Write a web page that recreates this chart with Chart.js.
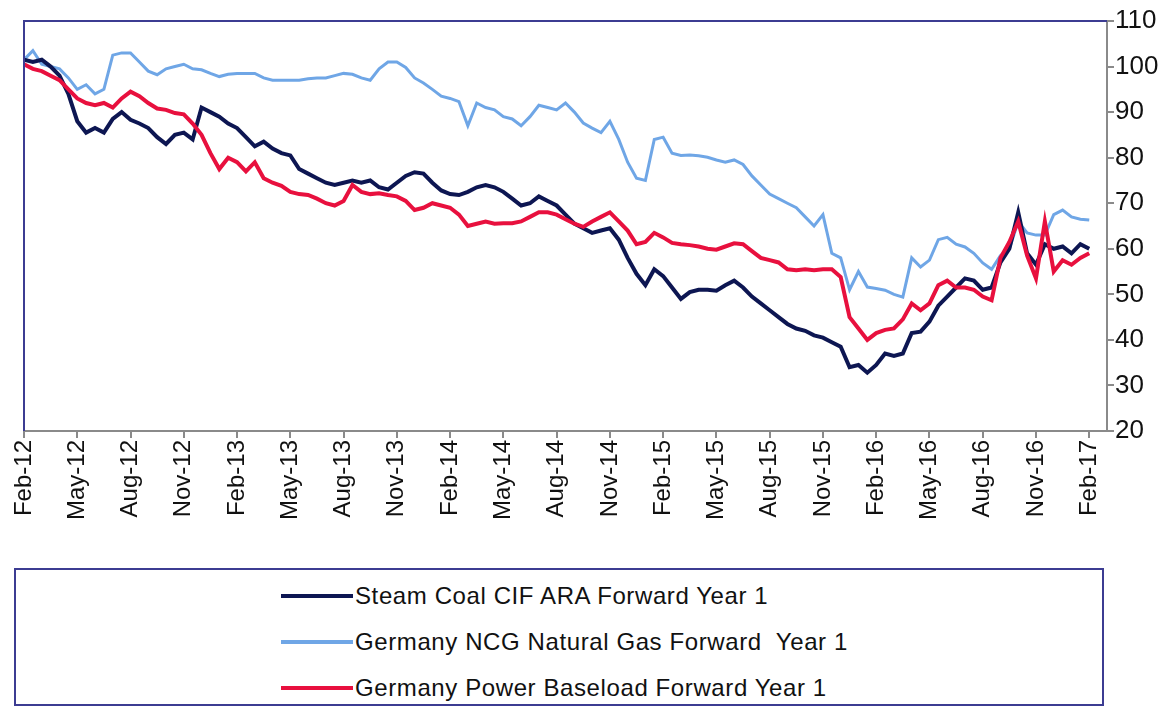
<!DOCTYPE html>
<html>
<head>
<meta charset="utf-8">
<script src="https://cdn.jsdelivr.net/npm/chart.js@4/dist/chart.umd.min.js"></script>
<style>
  body { margin: 0; background: #fff; }
  #wrap { position: relative; width: 1175px; height: 711px; }
  #legend {
    position: absolute; left: 14px; top: 568px; width: 1090px; height: 138px;
    border: 2px solid #3c3c92; box-sizing: border-box;
    font-family: "Liberation Sans", Arial, sans-serif;
    font-size: 24px; letter-spacing: 0.6px; color: #111;
  }
  .row { position: absolute; left: 265px; height: 28px; display: flex; align-items: center; }
  .swatch { width: 72px; height: 4px; margin-right: 2px; }
</style>
</head>
<body>
<div id="wrap">
  <canvas id="grafica" width="1175" height="555"></canvas>
  <div id="legend"></div>
</div>
<script>
// tick labels, every 3 months from Feb-12
var etiquetas = ['Feb-12', 'May-12', 'Aug-12', 'Nov-12', 'Feb-13', 'May-13', 'Aug-13', 'Nov-13',
    'Feb-14', 'May-14', 'Aug-14', 'Nov-14', 'Feb-15', 'May-15', 'Aug-15', 'Nov-15',
    'Feb-16', 'May-16', 'Aug-16', 'Nov-16', 'Feb-17'];

// values read every half month, starting Feb-12
var Carbon = [
    101.5, 101, 101.5, 100, 98, 94, 88, 85.5, 86.5, 85.5,
    88.5, 90, 88.3, 87.5, 86.5, 84.5, 83, 85, 85.5, 84,
    91, 90, 89, 87.5, 86.5, 84.5, 82.5, 83.5, 82, 81,
    80.5, 77.5, 76.5, 75.5, 74.5, 74, 74.5, 75, 74.5, 75,
    73.5, 73, 74.5, 76, 76.8, 76.5, 74.5, 72.8, 72, 71.8,
    72.5, 73.5, 74, 73.5, 72.5, 71, 69.5, 70, 71.5, 70.5,
    69.5, 67.5, 65.5, 64.5, 63.5, 64, 64.5, 62, 58, 54.5,
    52, 55.5, 54, 51.5, 49, 50.5, 51, 51, 50.8, 52,
    53, 51.5, 49.5, 48, 46.5, 45, 43.5, 42.5, 42, 41,
    40.5, 39.5, 38.5, 34, 34.5, 32.8, 34.5, 37, 36.5, 37,
    41.5, 41.8, 44, 47.5, 49.5, 51.5, 53.5, 53, 51, 51.5,
    57, 60, 68, 59, 56.5, 61, 60, 60.5, 59, 61,
    60
];

var Gas = [
    101.5, 103.5, 100.5, 100, 99.5, 97.5, 95, 96, 94, 95,
    102.5, 103, 103, 101, 99, 98.2, 99.5, 100, 100.5, 99.5,
    99.3, 98.5, 97.8, 98.3, 98.5, 98.5, 98.5, 97.5, 97, 97,
    97, 97, 97.3, 97.5, 97.5, 98, 98.5, 98.3, 97.5, 97,
    99.5, 101, 101, 99.8, 97.5, 96.4, 95, 93.5, 93, 92.3,
    87, 92, 91, 90.5, 89, 88.5, 87, 89, 91.5, 91,
    90.5, 92, 90, 87.6, 86.5, 85.5, 88, 84, 79, 75.5,
    75, 84, 84.5, 81, 80.5, 80.6, 80.4, 80.1, 79.5, 79,
    79.5, 78.5, 76, 74, 72, 71, 70, 69, 67, 65,
    67.5, 59, 58, 51, 55, 51.6, 51.3, 50.9, 50, 49.4,
    58, 56, 57.5, 62, 62.5, 61, 60.4, 59, 56.9, 55.5,
    58.5, 60, 66, 63.5, 63, 63, 67.5, 68.5, 67, 66.5,
    66.3
];

var Electricidad = [
    100.5, 99.5, 99, 98, 97, 95, 93, 92, 91.5, 92,
    91, 93, 94.5, 93.5, 92, 90.8, 90.5, 89.8, 89.5, 87.5,
    85, 81, 77.5, 80, 79, 77, 79, 75.5, 74.5, 73.8,
    72.5, 72, 71.8, 71, 70, 69.5, 70.5, 74, 72.5, 72,
    72.2, 71.8, 71.5, 70.5, 68.5, 69, 70, 69.5, 69, 67.5,
    65, 65.5, 66, 65.5, 65.6, 65.6, 66, 67, 68, 68,
    67.5, 66.5, 65.5, 64.8, 66, 67, 68, 66, 64, 61,
    61.5, 63.5, 62.5, 61.3, 61, 60.8, 60.5, 60, 59.8, 60.5,
    61.2, 61, 59.5, 58, 57.5, 57, 55.5, 55.3, 55.5, 55.3,
    55.5, 55.5, 53.8, 45, 42.5, 40, 41.5, 42.2, 42.5, 44.5,
    48, 46.5, 48, 52, 53, 51.5, 51.5, 51, 49.5, 48.7,
    58, 61.5, 66, 58.5, 53.5, 66, 55, 57.5, 56.5, 58,
    59
];

var nombres = ['Steam Coal CIF ARA Forward Year 1',
    'Germany NCG Natural Gas Forward  Year 1',
    'Germany Power Baseload Forward Year 1'];
var colores = ['#0d1652', '#6fa6e6', '#e8103e'];

// each value sits half a month after the previous one
function puntos(serie) {
    return serie.map(function (v, i) { return { x: i * 0.5, y: v }; });
}

function serie(nombre, datos, color, orden, grosor) {
    return {
        label: nombre,
        data: puntos(datos),
        borderColor: color,
        backgroundColor: color,
        borderWidth: grosor,
        pointRadius: 0,
        fill: false,
        tension: 0,
        order: orden
    };
}

// left and top frame lines of the plot
var marco = {
    id: 'marco',
    afterDraw: function (chart) {
        var a = chart.chartArea, c = chart.ctx;
        c.save();
        c.strokeStyle = '#3c3c92';
        c.lineWidth = 2;
        c.beginPath();
        c.moveTo(a.left, a.bottom);
        c.lineTo(a.left, a.top);
        c.lineTo(a.right, a.top);
        c.stroke();
        c.restore();
    }
};

var ctx = document.getElementById('grafica').getContext('2d');
var grafica = new Chart(ctx, {
    type: 'line',
    data: {
        datasets: [
            serie(nombres[0], Carbon, colores[0], 2, 4),
            serie(nombres[1], Gas, colores[1], 3, 3),
            serie(nombres[2], Electricidad, colores[2], 1, 4)
        ]
    },
    options: {
        responsive: false,
        animation: false,
        layout: { padding: { left: 24, top: 21, right: 0, bottom: 0 } },
        plugins: { legend: { display: false }, tooltip: { enabled: false } },
        scales: {
            x: {
                type: 'linear',
                min: 0,
                max: 61,
                afterBuildTicks: function (axis) {
                    axis.ticks = etiquetas.map(function (e, i) { return { value: i * 3 }; });
                },
                afterFit: function (axis) { axis.height = 124; },
                grid: { drawOnChartArea: false, color: '#8a8a8a', tickLength: 7, lineWidth: 2 },
                border: { color: '#8a8a8a', width: 2 },
                ticks: {
                    autoSkip: false,
                    minRotation: 90,
                    maxRotation: 90,
                    padding: 2,
                    color: '#111',
                    font: { family: 'Liberation Sans', size: 24 },
                    callback: function (v) { return etiquetas[Math.round(v / 3)]; }
                }
            },
            y: {
                position: 'right',
                min: 20,
                max: 110,
                afterFit: function (axis) { axis.width = 68; },
                grid: { drawOnChartArea: false, color: '#8a8a8a', tickLength: 7, lineWidth: 2 },
                border: { color: '#8a8a8a', width: 2 },
                ticks: {
                    stepSize: 10,
                    padding: 1,
                    color: '#111',
                    font: { family: 'Liberation Sans', size: 26 }
                }
            }
        }
    },
    plugins: [marco]
});

// legend box under the chart
var leyenda = document.getElementById('legend');
nombres.forEach(function (n, i) {
    var fila = document.createElement('div');
    fila.className = 'row';
    fila.style.top = (12 + i * 46) + 'px';
    var m = document.createElement('span');
    m.className = 'swatch';
    m.style.background = colores[i];
    var t = document.createElement('span');
    t.textContent = n;
    t.style.whiteSpace = 'pre';
    fila.appendChild(m);
    fila.appendChild(t);
    leyenda.appendChild(fila);
});
</script>
</body>
</html>
